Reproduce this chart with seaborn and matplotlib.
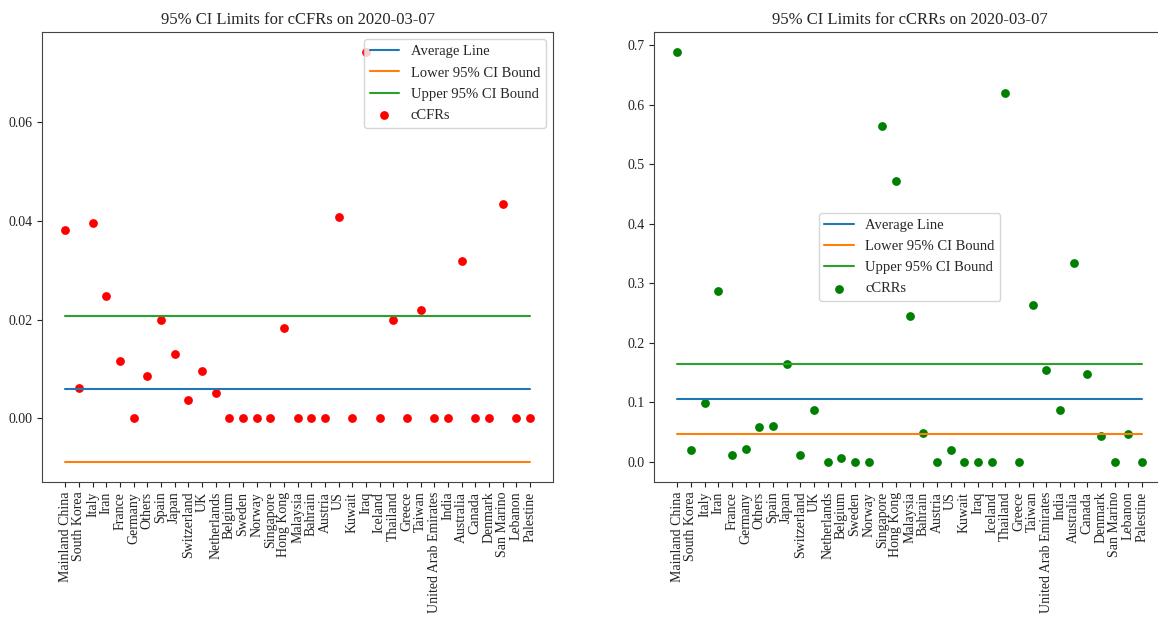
import numpy as np
import matplotlib
matplotlib.use("Agg")
import matplotlib.pyplot as plt
import seaborn as sns

countries = ["Mainland China", "South Korea", "Italy", "Iran", "France", "Germany",
             "Others", "Spain", "Japan", "Switzerland", "UK", "Netherlands", "Belgium",
             "Sweden", "Norway", "Singapore", "Hong Kong", "Malaysia", "Bahrain",
             "Austria", "US", "Kuwait", "Iraq", "Iceland", "Thailand", "Greece",
             "Taiwan", "United Arab Emirates", "India", "Australia", "Canada",
             "Denmark", "San Marino", "Lebanon", "Palestine"]

# case fatality rates per country
cfr = [0.0382, 0.0061, 0.0396, 0.0247, 0.0117, 0.0, 0.0085, 0.0200, 0.0131, 0.0038,
       0.0097, 0.0052, 0.0, 0.0, 0.0, 0.0, 0.0183, 0.0, 0.0, 0.0, 0.0408, 0.0,
       0.0741, 0.0, 0.0200, 0.0, 0.0220, 0.0, 0.0, 0.0319, 0.0, 0.0, 0.0434, 0.0, 0.0]
cfr_avg = 0.00604
cfr_lower = -0.00872
cfr_upper = 0.02067

# case recovery rates per country
crr = [0.688, 0.0195, 0.0992, 0.286, 0.0117, 0.0217, 0.0574, 0.059, 0.1643, 0.0117,
       0.0869, 0.0, 0.0061, 0.0, 0.0, 0.5642, 0.4715, 0.245, 0.0474, 0.0, 0.0195,
       0.0, 0.0, 0.0, 0.620, 0.0, 0.2635, 0.1543, 0.0869, 0.3335, 0.1465, 0.0435,
       0.0, 0.0457, 0.0]
crr_avg = 0.105
crr_lower = 0.0468
crr_upper = 0.1638

sns.set_style("ticks")
plt.rcParams["font.family"] = ["Liberation Serif", "DejaVu Serif"]
plt.rcParams["font.size"] = 10

fig = plt.figure(figsize=(11.58, 6.17), dpi=100)
ax1 = fig.add_axes([0.0363, 0.2188, 0.4413, 0.7293])
ax2 = fig.add_axes([0.5648, 0.2188, 0.4413, 0.7293])

pos = np.arange(len(countries))
n = len(countries)


def draw(ax, vals, avg, lower, upper, color, name):
    sns.lineplot(x=pos, y=[avg] * n, ax=ax, color="C0", label="Average Line")
    sns.lineplot(x=pos, y=[lower] * n, ax=ax, color="C1", label="Lower 95% CI Bound")
    sns.lineplot(x=pos, y=[upper] * n, ax=ax, color="C2", label="Upper 95% CI Bound")
    sns.scatterplot(x=pos, y=vals, ax=ax, color=color, s=40, linewidth=0, label=name)
    ax.set_xticks(pos)
    ax.set_xticklabels(countries, rotation=90)
    for s in ax.spines.values():
        s.set_color("#444444")
    ax.tick_params(colors="#222222")


draw(ax1, cfr, cfr_avg, cfr_lower, cfr_upper, "red", "cCFRs")
ax1.set_title("95% CI Limits for cCFRs on 2020-03-07", fontsize=12)
ax1.set_yticks([0.0, 0.02, 0.04, 0.06])
ax1.set_yticklabels(["0.00", "0.02", "0.04", "0.06"])
ax1.legend(loc="upper right", fontsize=10.5, labelspacing=0.55)

draw(ax2, crr, crr_avg, crr_lower, crr_upper, "green", "cCRRs")
ax2.set_title("95% CI Limits for cCRRs on 2020-03-07", fontsize=12)
ax2.legend(loc="center", fontsize=10.5, labelspacing=0.55)

fig.savefig("out.png", dpi=100)
